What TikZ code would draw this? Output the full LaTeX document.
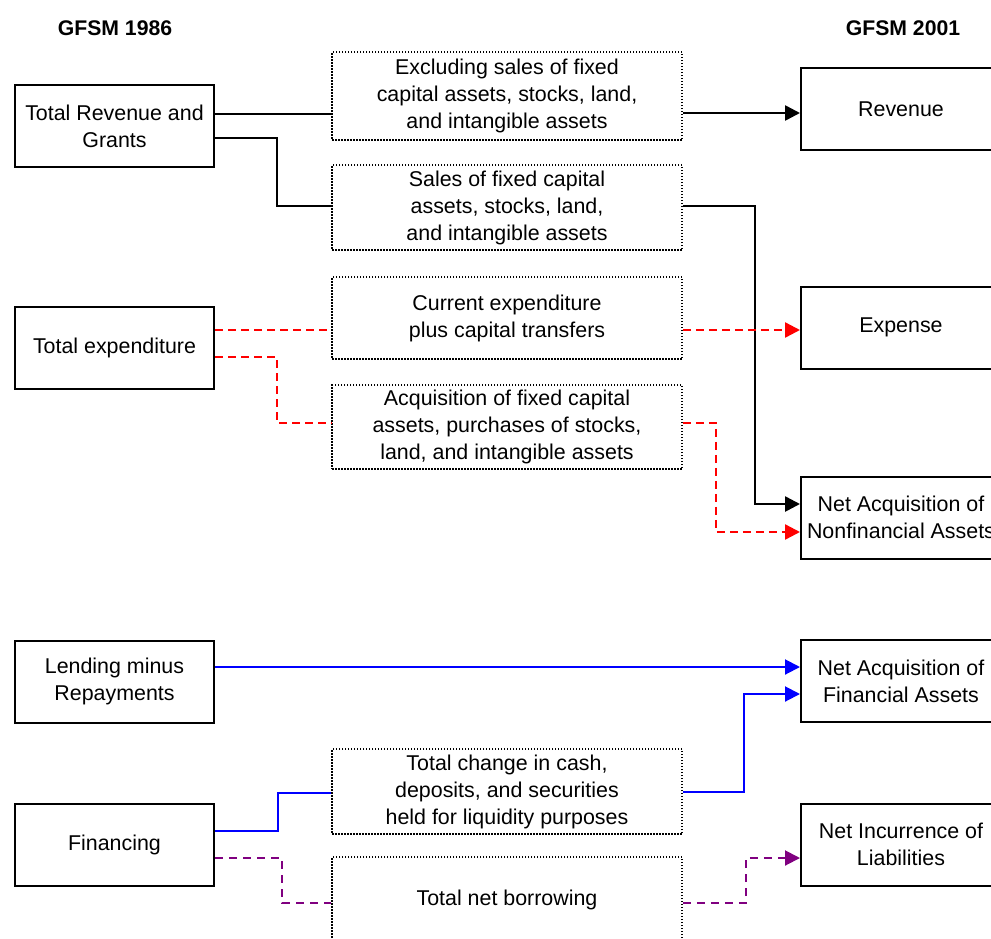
\documentclass[tikz,border=0pt]{standalone}
\usepackage{fontspec}
\setmainfont{Liberation Sans}
\usetikzlibrary{arrows.meta}
\begin{document}
\begin{tikzpicture}[x=1pt,y=-1pt,
  every node/.style={font=\fontsize{21.4}{27}\selectfont, align=center, inner sep=0pt},
  solidbox/.style={draw, line width=2pt, minimum height=82pt},
  lbox/.style={solidbox, minimum width=199pt},
  rbox/.style={solidbox, minimum width=200pt},
  dbox/.style={draw, line width=1.6pt, dash pattern=on 1.5pt off 1.5pt, minimum width=350pt},
  title/.style={font=\fontsize{21.2}{25}\selectfont\bfseries},
  arr/.style={-{Triangle[length=15pt,width=15pt]}},
  blkthin/.style={line width=1.6pt, black},
  blkthick/.style={line width=2.6pt, black},
  redleft/.style={line width=2pt, red, dash pattern=on 8pt off 5pt},
  redright/.style={line width=2.4pt, red, dash pattern=on 8pt off 5pt},
  blueline/.style={line width=2pt, blue},
]
\definecolor{purp}{RGB}{128,0,128}
\tikzset{purpdash/.style={line width=2pt, purp, dash pattern=on 8pt off 6pt}}
\clip (0,0) rectangle (991,938);
\fill[white] (0,0) rectangle (991,938);

% titles
\node[title] (t1) at (115,28) {GFSM 1986};
\node[title] (t2) at (903,28) {GFSM 2001};

% left boxes
\node[lbox] (trg) at (114.5,126) {Total Revenue and\\Grants};
\node[lbox] (te)  at (114.5,347.5) {Total expenditure};
\node[lbox] (lmr) at (114.5,681.5) {Lending minus\\Repayments};
\node[lbox] (fin) at (114.5,844.5) {Financing};

% middle dotted boxes
\node[dbox, minimum height=88pt] (b1) at (507,96) {Excluding sales of fixed\\capital assets, stocks, land,\\and intangible assets};
\node[dbox, minimum height=85pt] (b2) at (507,207.5) {Sales of fixed capital\\assets, stocks, land,\\and intangible assets};
\node[dbox, minimum height=82pt] (b3) at (507,318) {Current expenditure\\plus capital transfers};
\node[dbox, minimum height=84pt] (b4) at (507,427) {Acquisition of fixed capital\\assets, purchases of stocks,\\land, and intangible assets};
\node[dbox, minimum height=85pt] (b5) at (507,791.5) {Total change in cash,\\deposits, and securities\\held for liquidity purposes};
\node[dbox, minimum height=85pt] (b6) at (507,899.5) {Total net borrowing};

% right boxes
\node[rbox] (rev)  at (901,109) {Revenue};
\node[rbox] (exp)  at (901,327.5) {Expense};
\node[rbox] (nana) at (901,517.5) {Net Acquisition of\\Nonfinancial Assets};
\node[rbox] (nafa) at (901,681) {Net Acquisition of\\Financial Assets};
\node[rbox] (nil)  at (901,844.5) {Net Incurrence of\\Liabilities};

% black connectors
\draw[blkthin] (trg.east |- 0,114) -- (b1.west |- 0,114);
\draw[blkthick,arr] (b1.east |- 0,113) -- (rev.west |- 0,113);
\draw[blkthin] (trg.east |- 0,138) -| (277,206) -- (b2.west |- 0,206);
\draw[blkthick,arr] (b2.east |- 0,206) -| (755,504) -- (nana.west |- 0,504);

% red dashed connectors
\draw[redleft] (te.east |- 0,330) -- (b3.west |- 0,330);
\draw[redright,arr] (b3.east |- 0,330) -- (exp.west |- 0,330);
\draw[redleft] (te.east |- 0,357) -| (277,423) -- (b4.west |- 0,423);
\draw[redright,arr] (b4.east |- 0,423) -| (716,532) -- (nana.west |- 0,532);

% blue connectors
\draw[blueline,arr] (lmr.east |- 0,667) -- (nafa.west |- 0,667);
\draw[blueline] (fin.east |- 0,831) -| (278,793) -- (b5.west |- 0,793);
\draw[blueline,arr] (b5.east |- 0,792) -| (744,694) -- (nafa.west |- 0,694);

% purple dashed connectors
\draw[purpdash] (fin.east |- 0,858) -| (282,903) -- (b6.west |- 0,903);
\draw[purpdash,arr] (b6.east |- 0,903) -| (746,858) -- (nil.west |- 0,858);
\end{tikzpicture}
\end{document}
